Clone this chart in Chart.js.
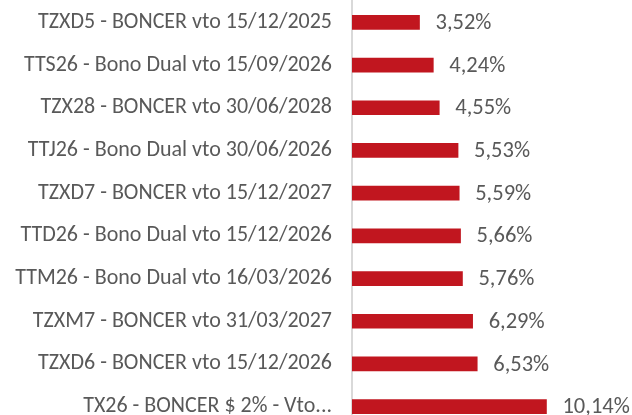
<!DOCTYPE html>
<html>
<head>
<meta charset="utf-8">
<script src="https://cdn.jsdelivr.net/npm/chart.js@4.4.1/dist/chart.umd.min.js"></script>
<style>
  html, body { margin: 0; padding: 0; background: #fff; overflow: hidden; }
  #wrap { width: 632px; height: 428px; position: relative; }
</style>
</head>
<body>
<div id="wrap"><canvas id="chart"></canvas></div>
<script>
const labels = [
    'TZXD5 - BONCER vto 15/12/2025',
    'TTS26 - Bono Dual vto 15/09/2026',
    'TZX28 - BONCER vto 30/06/2028',
    'TTJ26 - Bono Dual vto 30/06/2026',
    'TZXD7 - BONCER vto 15/12/2027',
    'TTD26 - Bono Dual vto 15/12/2026',
    'TTM26 - Bono Dual vto 16/03/2026',
    'TZXM7 - BONCER vto 31/03/2027',
    'TZXD6 - BONCER vto 15/12/2026',
    'TX26 - BONCER $ 2% - Vto...'
];
const values = [3.52, 4.24, 4.55, 5.53, 5.59, 5.66, 5.76, 6.29, 6.53, 10.14];

const FONT = 'Calibri, Carlito, Lato, sans-serif';
const TEXT = '#595959';

// value labels after each bar
const valueLabels = {
    id: 'valueLabels',
    afterDatasetsDraw(chart) {
        const ctx = chart.ctx;
        const meta = chart.getDatasetMeta(0);
        ctx.save();
        ctx.font = '22.5px ' + FONT;
        ctx.fillStyle = TEXT;
        ctx.textAlign = 'left';
        ctx.textBaseline = 'middle';
        meta.data.forEach((bar, i) => {
            const txt = values[i].toFixed(2).replace('.', ',') + '%';
            ctx.fillText(txt, bar.x + 16, bar.y + 1);
        });
        ctx.restore();
    }
};

new Chart(document.getElementById('chart'), {
    type: 'bar',
    data: {
        labels: labels,
        datasets: [{
            data: values,
            backgroundColor: '#C1161F',
            barThickness: 14
        }]
    },
    options: {
        indexAxis: 'y',
        responsive: true,
        maintainAspectRatio: false,
        animation: false,
        layout: { padding: { top: 1, right: 0, bottom: 0, left: 0 } },
        plugins: {
            legend: { display: false },
            tooltip: { enabled: false }
        },
        scales: {
            x: {
                display: false,
                min: 0,
                max: 14.6
            },
            y: {
                afterFit: (scale) => {
                    scale.width = 352;
                    scale.paddingTop = 0;
                    scale.paddingBottom = 0;
                },
                grid: { display: false },
                border: { display: true, color: '#D9D9D9', width: 2 },
                ticks: {
                    color: TEXT,
                    padding: 12,
                    font: { family: FONT, size: 22 }
                }
            }
        }
    },
    plugins: [valueLabels]
});
</script>
</body>
</html>
